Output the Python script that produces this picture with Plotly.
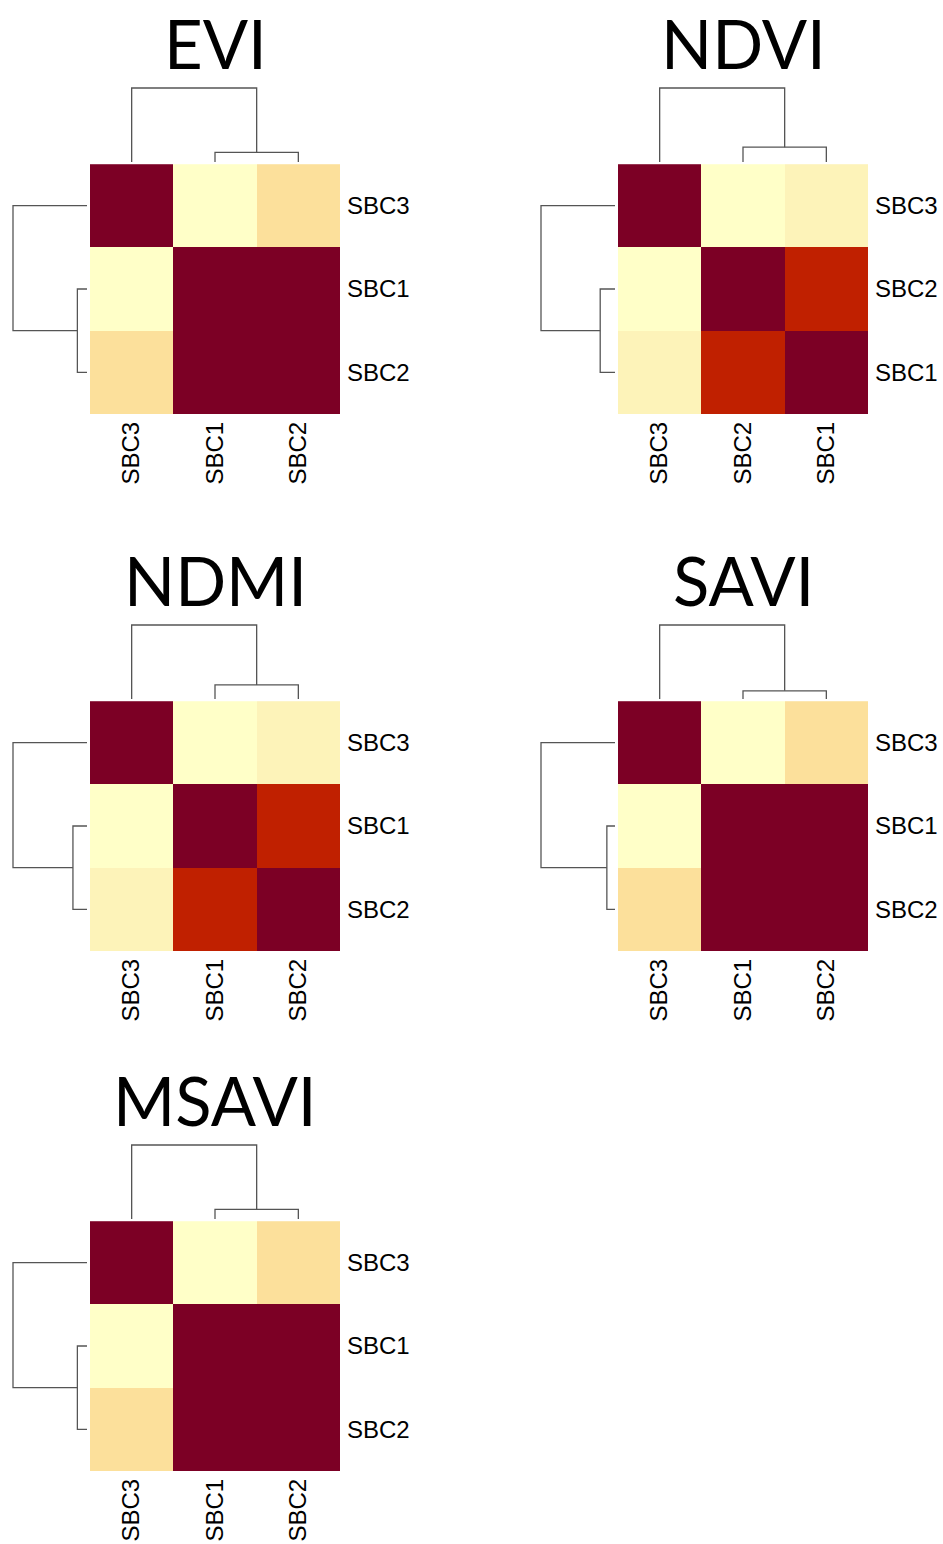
import plotly.graph_objects as go

# ---------------------------------------------------------------------------
# Data: similarity matrices of the three SBC classes for each vegetation index,
# given in dendrogram (display) order, plus the hierarchical-clustering merges.
# Linkage rows follow the scipy convention: [left, right, height], where ids
# >= n refer to the cluster created by merge (id - n).
# ---------------------------------------------------------------------------
index_names = ["EVI", "NDVI", "NDMI", "SAVI", "MSAVI"]

evi_labels = ["SBC3", "SBC1", "SBC2"]
evi_values = [[1.00, 0.08, 0.28],
              [0.08, 1.00, 0.99],
              [0.28, 0.99, 1.00]]
evi_linkage = [[1, 2, 0.13], [0, 3, 1.00]]

ndvi_labels = ["SBC3", "SBC2", "SBC1"]
ndvi_values = [[1.00, 0.08, 0.18],
               [0.08, 1.00, 0.86],
               [0.18, 0.86, 1.00]]
ndvi_linkage = [[1, 2, 0.20], [0, 3, 1.00]]

ndmi_labels = ["SBC3", "SBC1", "SBC2"]
ndmi_values = [[1.00, 0.08, 0.18],
               [0.08, 1.00, 0.86],
               [0.18, 0.86, 1.00]]
ndmi_linkage = [[1, 2, 0.19], [0, 3, 1.00]]

savi_labels = ["SBC3", "SBC1", "SBC2"]
savi_values = [[1.00, 0.08, 0.28],
               [0.08, 1.00, 0.99],
               [0.28, 0.99, 1.00]]
savi_linkage = [[1, 2, 0.11], [0, 3, 1.00]]

msavi_labels = ["SBC3", "SBC1", "SBC2"]
msavi_values = [[1.00, 0.08, 0.28],
                [0.08, 1.00, 0.99],
                [0.28, 0.99, 1.00]]
msavi_linkage = [[1, 2, 0.13], [0, 3, 1.00]]

panels = {
    "EVI": (evi_labels, evi_values, evi_linkage),
    "NDVI": (ndvi_labels, ndvi_values, ndvi_linkage),
    "NDMI": (ndmi_labels, ndmi_values, ndmi_linkage),
    "SAVI": (savi_labels, savi_values, savi_linkage),
    "MSAVI": (msavi_labels, msavi_values, msavi_linkage),
}

# ---------------------------------------------------------------------------
# Page geometry (pixels) and styling
# ---------------------------------------------------------------------------
W, H = 943, 1544
HEAT = 250          # heatmap side length
DEND = 74           # dendrogram depth
DGAP_COL = 2        # gap between column dendrogram leaves and heatmap
DGAP_ROW = 3        # gap between row dendrogram leaves and heatmap
PAD = 0.03          # axis padding so that the top merge line is not clipped
TITLE_TOP = 163     # distance from title box top to heatmap top

# top-left corner of each heatmap
heat_origin = {
    "EVI": (90, 164),
    "NDVI": (618, 164),
    "NDMI": (90, 701),
    "SAVI": (618, 701),
    "MSAVI": (90, 1221),
}

colorscale = [
    [0.00, "#FFFFCC"],
    [0.08, "#FFFFC8"],
    [0.18, "#FDF3B9"],
    [0.28, "#FCE09B"],
    [0.86, "#C02000"],
    [0.99, "#7C0025"],
    [1.00, "#7C0025"],
]
LINE_COLOR = "#555555"
LINE_W = 1.3
TICK_FONT = dict(family="Liberation Sans, Arial, sans-serif", size=24, color="black")
TITLE_FONT = dict(family="Lato, Open Sans, sans-serif", size=67, color="black")


def px_x(x):
    return x / W


def px_y(y):
    return 1 - y / H


def dendro_segments(linkage, n):
    """Return (positions, heights) polyline lists, None-separated, for a linkage."""
    pos = {i: float(i) for i in range(n)}
    hgt = {i: 0.0 for i in range(n)}
    p_list, h_list = [], []
    for k, (a, b, h) in enumerate(linkage):
        p_list += [pos[a], pos[a], pos[b], pos[b], None]
        h_list += [hgt[a], h, h, hgt[b], None]
        pos[n + k] = (pos[a] + pos[b]) / 2
        hgt[n + k] = h
    return p_list, h_list


fig = go.Figure()
layout = dict(
    width=W, height=H,
    margin=dict(l=0, r=0, t=0, b=0),
    paper_bgcolor="white", plot_bgcolor="white",
    showlegend=False,
    annotations=[],
)


def axis_key(kind, n):
    return f"{kind}axis" if n == 1 else f"{kind}axis{n}"


def axis_ref(kind, n):
    return kind if n == 1 else f"{kind}{n}"


hidden = dict(visible=False, showgrid=False, zeroline=False, fixedrange=True)

for i, name in enumerate(index_names):
    labels, values, linkage = panels[name]
    n = len(labels)
    left, top = heat_origin[name]
    ih, ic, ir = 3 * i + 1, 3 * i + 2, 3 * i + 3

    # --- heatmap -----------------------------------------------------------
    fig.add_trace(go.Heatmap(
        z=values, x=list(range(n)), y=list(range(n)),
        colorscale=colorscale, zmin=0, zmax=1, showscale=False,
        xaxis=axis_ref("x", ih), yaxis=axis_ref("y", ih),
        hovertemplate="%{z}<extra></extra>",
    ))
    layout[axis_key("x", ih)] = dict(
        domain=[px_x(left), px_x(left + HEAT)], anchor=axis_ref("y", ih),
        range=[-0.5, n - 0.5], tickvals=list(range(n)), ticktext=labels,
        tickangle=-90, side="bottom", ticks="", showgrid=False, zeroline=False,
        showline=False, tickfont=TICK_FONT, ticklabelstandoff=2, fixedrange=True,
    )
    layout[axis_key("y", ih)] = dict(
        domain=[px_y(top + HEAT), px_y(top)], anchor=axis_ref("x", ih),
        range=[n - 0.5, -0.5], tickvals=list(range(n)), ticktext=labels,
        side="right", ticks="", showgrid=False, zeroline=False,
        showline=False, tickfont=TICK_FONT, ticklabelstandoff=6, fixedrange=True,
    )

    p, h = dendro_segments(linkage, n)
    span_pad = PAD * DEND

    # --- column dendrogram (above the heatmap) ------------------------------
    leaf_y = top - DGAP_COL
    top_y = leaf_y - DEND
    fig.add_trace(go.Scatter(
        x=p, y=h, mode="lines", line=dict(color=LINE_COLOR, width=LINE_W),
        xaxis=axis_ref("x", ic), yaxis=axis_ref("y", ic), hoverinfo="skip",
    ))
    layout[axis_key("x", ic)] = dict(
        hidden, domain=[px_x(left), px_x(left + HEAT)], anchor=axis_ref("y", ic),
        range=[-0.5, n - 0.5],
    )
    layout[axis_key("y", ic)] = dict(
        hidden, domain=[px_y(leaf_y + span_pad), px_y(top_y - span_pad)],
        anchor=axis_ref("x", ic), range=[-PAD, 1 + PAD],
    )

    # --- row dendrogram (left of the heatmap) -------------------------------
    leaf_x = left - DGAP_ROW
    far_x = leaf_x - DEND
    fig.add_trace(go.Scatter(
        x=h, y=p, mode="lines", line=dict(color=LINE_COLOR, width=LINE_W),
        xaxis=axis_ref("x", ir), yaxis=axis_ref("y", ir), hoverinfo="skip",
    ))
    layout[axis_key("x", ir)] = dict(
        hidden, domain=[px_x(far_x - span_pad), px_x(leaf_x + span_pad)],
        anchor=axis_ref("y", ir), range=[1 + PAD, -PAD],
    )
    layout[axis_key("y", ir)] = dict(
        hidden, domain=[px_y(top + HEAT), px_y(top)], anchor=axis_ref("x", ir),
        range=[n - 0.5, -0.5],
    )

    # --- panel title --------------------------------------------------------
    layout["annotations"].append(dict(
        text=name, xref="paper", yref="paper",
        x=px_x(left + HEAT / 2), y=px_y(top - TITLE_TOP),
        xanchor="center", yanchor="top", showarrow=False, font=TITLE_FONT,
    ))

fig.update_layout(**layout)
fig.write_html("out.html")
